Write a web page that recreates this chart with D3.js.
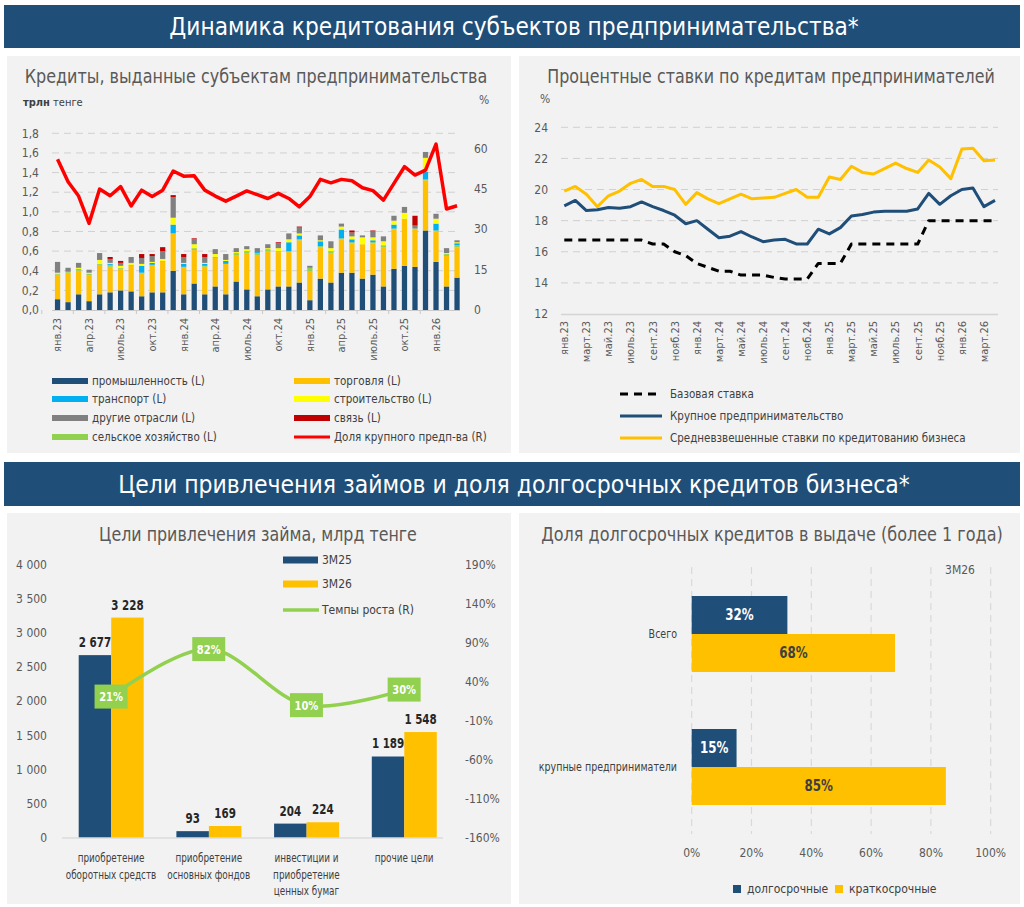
<!DOCTYPE html>
<html><head><meta charset="utf-8">
<script src="https://cdn.jsdelivr.net/npm/d3@7"></script>
<style>
body{margin:0;background:#fff;}
svg{display:block;font-family:"Liberation Sans Narrow","DejaVu Sans Condensed","Roboto Condensed",sans-serif;}
</style></head><body><svg id="c" width="1024" height="907"></svg>
<script>
// ---------------- DATA ----------------
const months1 = ["янв.23","фев.23","март.23","апр.23","май.23","июнь.23","июль.23","авг.23","сент.23","окт.23","нояб.23","дек.23",
"янв.24","фев.24","март.24","апр.24","май.24","июнь.24","июль.24","авг.24","сент.24","окт.24","нояб.24","дек.24",
"янв.25","фев.25","март.25","апр.25","май.25","июнь.25","июль.25","авг.25","сент.25","окт.25","нояб.25","дек.25",
"янв.26","фев.26","март.26"];
const months2 = ["янв.23","фев.23","март.23","апр.23","май.23","июнь.23","июль.23","авг.23","сент.23","окт.23","нояб.23","дек.23",
"янв.24","фев.24","март.24","апр.24","май.24","июнь.24","июль.24","авг.24","сент.24","окт.24","нояб.24","дек.24",
"янв.25","фев.25","март.25","апр.25","май.25","июнь.25","июль.25","авг.25","сент.25","окт.25","нояб.25","дек.25",
"янв.26","фев.26","март.26","апр.26"];

// Chart 1: loans by sector, trillion tenge
const industry     = [0.11,0.08,0.16,0.09,0.16,0.18,0.20,0.19,0.14,0.18,0.18,0.40,0.16,0.27,0.16,0.24,0.16,0.29,0.21,0.14,0.21,0.24,0.24,0.28,0.10,0.32,0.28,0.38,0.38,0.32,0.36,0.24,0.42,0.45,0.44,0.81,0.49,0.24,0.33];
const trade        = [0.25,0.30,0.24,0.26,0.30,0.26,0.22,0.26,0.23,0.27,0.31,0.38,0.27,0.34,0.28,0.29,0.31,0.27,0.37,0.42,0.39,0.35,0.35,0.43,0.29,0.32,0.30,0.34,0.30,0.35,0.32,0.40,0.40,0.47,0.38,0.51,0.31,0.31,0.31];
const agriculture  = [0.01,0.01,0.02,0.02,0.01,0.02,0.01,0.01,0.01,0.01,0.01,0.00,0.01,0.02,0.01,0.01,0.00,0.02,0.02,0.02,0.02,0.01,0.01,0.01,0.04,0.01,0.02,0.01,0.01,0.00,0.01,0.02,0.01,0.01,0.01,0.01,0.01,0.02,0.02];
const transport    = [0.00,0.00,0.00,0.00,0.00,0.01,0.00,0.00,0.07,0.02,0.00,0.09,0.03,0.00,0.02,0.00,0.03,0.00,0.00,0.01,0.00,0.00,0.09,0.04,0.00,0.05,0.00,0.09,0.03,0.00,0.02,0.00,0.04,0.00,0.00,0.08,0.07,0.00,0.02];
const construction = [0.01,0.00,0.01,0.01,0.04,0.01,0.02,0.02,0.02,0.01,0.02,0.07,0.01,0.04,0.01,0.03,0.01,0.01,0.02,0.00,0.01,0.03,0.03,0.02,0.00,0.01,0.03,0.03,0.03,0.07,0.03,0.04,0.04,0.06,0.00,0.14,0.05,0.01,0.01];
const otherSectors = [0.11,0.04,0.05,0.03,0.07,0.04,0.03,0.06,0.06,0.06,0.08,0.21,0.06,0.05,0.06,0.05,0.06,0.04,0.03,0.04,0.04,0.05,0.06,0.06,0.02,0.05,0.07,0.03,0.04,0.02,0.06,0.05,0.05,0.06,0.03,0.06,0.05,0.05,0.02];
const communication= [0.00,0.00,0.00,0.00,0.00,0.02,0.02,0.00,0.04,0.02,0.04,0.02,0.03,0.01,0.03,0.00,0.00,0.00,0.00,0.00,0.00,0.01,0.00,0.01,0.00,0.00,0.00,0.00,0.02,0.00,0.01,0.00,0.00,0.00,0.10,0.00,0.00,0.00,0.00];
const largeShare   = [56.0,47.6,42.3,32.2,44.9,42.4,45.8,38.6,44.5,42.1,44.5,51.6,49.7,49.8,44.5,42.3,40.4,42.3,44.2,42.8,41.4,43.3,41.4,38.3,42.1,48.5,47.2,48.5,48.0,45.4,44.3,40.8,47.0,53.2,50.1,51.9,61.6,37.5,38.7];
const sectorKeys   = ["промышленность (L)","торговля (L)","сельское хозяйство (L)","транспорт (L)","строительство (L)","другие отрасли (L)","связь (L)"];
const sectorSeries = [industry,trade,agriculture,transport,construction,otherSectors,communication];
const sectorColors = ["#1F4E79","#FFC000","#92D050","#00B0F0","#FFFF00","#808080","#C00000"];
const lineLabel1   = "Доля крупного предп-ва (R)";
const ticksL1 = [0,0.2,0.4,0.6,0.8,1.0,1.2,1.4,1.6,1.8];
const ticksR1 = [0,15,30,45,60];

// Chart 2: interest rates, %
const baseRate  = [16.75,16.75,16.75,16.75,16.75,16.75,16.75,16.75,16.5,16.5,16.0,15.75,15.25,15.0,14.75,14.75,14.5,14.5,14.5,14.35,14.25,14.25,14.25,15.25,15.25,15.25,16.5,16.5,16.5,16.5,16.5,16.5,16.5,18,18,18,18,18,18,18];
const largeRate = [18.95,19.3,18.65,18.7,18.85,18.8,18.9,19.2,18.9,18.65,18.35,17.8,18.0,17.45,16.9,17.0,17.3,16.95,16.65,16.75,16.8,16.5,16.5,17.45,17.15,17.55,18.3,18.4,18.55,18.6,18.6,18.6,18.75,19.75,19.05,19.6,20.0,20.1,18.9,19.3];
const avgRate   = [19.9,20.2,19.7,18.9,19.6,19.9,20.4,20.65,20.2,20.2,20.0,19.05,19.8,19.4,19.1,19.4,19.7,19.4,19.45,19.5,19.75,20.0,19.5,19.5,20.8,20.65,21.5,21.1,21.0,21.35,21.7,21.35,21.1,21.9,21.45,20.7,22.6,22.65,21.85,21.9];
const rateNames = ["Базовая ставка","Крупное предпринимательство","Средневзвешенные ставки по кредитованию бизнеса"];
const ticks2 = [12,14,16,18,20,22,24];

// Chart 3: purposes, bn tenge
const purposes = [["приобретение","оборотных средств"],["приобретение","основных фондов"],["инвестиции и","приобретение","ценных бумаг"],["прочие цели"]];
const val3M25 = [2677,93,204,1189];
const val3M26 = [3228,169,224,1548];
const growth  = [21,82,10,30];
const names3  = ["3М25","3М26","Темпы роста (R)"];
const ticksL3 = [0,500,1000,1500,2000,2500,3000,3500,4000];
const ticksR3 = [-160,-110,-60,-10,40,90,140,190];

// Chart 4: share of long-term loans
const groups4 = ["Всего","крупные предприниматели"];
const longShare  = [32,15];
const shortShare = [68,85];
const names4 = ["долгосрочные","краткосрочные"];
const ticks4 = [0,20,40,60,80,100];

// ---------------- DRAW ----------------
const svg = d3.select("#c");
const NAVY="#1F4E79", GOLD="#FFC000", GREEN="#92D050", TXT="#595959", GRID="#D0D0D0";

// horizontal condensing of a text around its anchor point
function condense(sel,k){
  sel.each(function(){
    const t=d3.select(this);
    const x=+t.attr("x")||0, y=+t.attr("y")||0;
    const prev=t.attr("transform")||"";
    if(prev) t.attr("transform",prev+` scale(${k},1)`);
    else t.attr("transform",`translate(${x},${y}) scale(${k},1) translate(${-x},${-y})`);
  });
  return sel;
}
function fitWidth(sel,w){
  const len=sel.node().getComputedTextLength();
  return condense(sel, Math.min(1.15,w/len));
}

// headers & panels
function header(y,h,text,w){
  svg.append("rect").attr("x",4).attr("y",y).attr("width",1016).attr("height",h).attr("fill","#1F4E79");
  const t=svg.append("text").attr("x",514).attr("y",y+h/2).attr("dy","0.36em").attr("text-anchor","middle")
    .attr("fill","#fff").attr("font-size",25).text(text);
  fitWidth(t,w);
}
header(5,43,"Динамика кредитования субъектов предпринимательства*",690);
header(462,44,"Цели привлечения займов и доля долгосрочных кредитов бизнеса*",792);
[[7,56,504,397],[519,56,501,397],[7,513,504,391],[519,513,501,391]].forEach(p=>{
  svg.append("rect").attr("x",p[0]).attr("y",p[1]).attr("width",p[2]).attr("height",p[3]).attr("fill","#F2F2F2");
});
function title(cx,y,text,w){
  const t=svg.append("text").attr("x",cx).attr("y",y).attr("dy","0.36em").attr("text-anchor","middle").attr("fill",TXT)
    .attr("font-size",20).text(text);
  fitWidth(t,w);
}
title(256,76,"Кредиты, выданные субъектам предпринимательства",463);
title(771,76,"Процентные ставки по кредитам предпринимателей",448);
title(258,534,"Цели привлечения займа, млрд тенге",318);
title(772,534,"Доля долгосрочных кредитов в выдаче (более 1 года)",462);

// ---------- Chart 1 ----------
{
  const g = svg.append("g");
  const x = d3.scaleBand().domain(months1).range([52.3,462.3]).paddingInner(0.5).paddingOuter(0.25);
  const yL = d3.scaleLinear().domain([0,1.8]).range([310,133.3]);
  const yR = d3.scaleLinear().domain([0,65.6]).range([310,133.3]);
  g.append("text").attr("x",23).attr("y",106).attr("font-size",11).attr("fill","#404040")
    .html('<tspan font-weight="bold">трлн</tspan> тенге');
  g.append("text").attr("x",479).attr("y",104).attr("font-size",12).attr("fill",TXT).text("%");
  ticksL1.forEach(t=>{
    if(t>0) g.append("line").attr("x1",52).attr("x2",460).attr("y1",yL(t)).attr("y2",yL(t))
      .attr("stroke",GRID).attr("stroke-dasharray","7,5");
    g.append("text").attr("x",39).attr("y",yL(t)).attr("dy","0.35em").attr("text-anchor","end")
      .attr("font-size",12).attr("fill",TXT).text(d3.format(".1f")(t).replace(".",","));
  });
  ticksR1.forEach(t=>{
    g.append("text").attr("x",474).attr("y",yR(t)).attr("dy","0.35em").attr("font-size",12).attr("fill",TXT).text(t);
  });
  const rows = months1.map((m,i)=>{const r={m}; sectorKeys.forEach((k,j)=>r[k]=sectorSeries[j][i]); return r;});
  const stacked = d3.stack().keys(sectorKeys)(rows);
  stacked.forEach((s,j)=>{
    g.append("g").selectAll("rect").data(s).join("rect")
      .attr("x",d=>x(d.data.m)).attr("width",x.bandwidth())
      .attr("y",d=>yL(d[1])).attr("height",d=>Math.max(0,yL(d[0])-yL(d[1]))).attr("fill",sectorColors[j]);
  });
  g.append("line").attr("x1",52).attr("x2",460).attr("y1",310.5).attr("y2",310.5).attr("stroke","#C8C8C8");
  const step = x.step();
  months1.forEach((m,i)=>{
    if(i%3===0){
      const cx = x(m)+x.bandwidth()/2;
      g.append("line").attr("x1",cx-step*1.5).attr("x2",cx-step*1.5).attr("y1",310).attr("y2",314).attr("stroke","#C8C8C8");
      g.append("text").attr("transform",`translate(${cx},318) rotate(-90)`).attr("text-anchor","end").attr("dy","0.35em")
        .attr("font-size",11).attr("fill",TXT).text(m);
    }
  });
  const line = d3.line().x((d,i)=>x(months1[i])+x.bandwidth()/2).y(d=>yR(d));
  g.append("path").datum(largeShare).attr("d",line).attr("fill","none").attr("stroke","#FF0000")
    .attr("stroke-width",3.5).attr("stroke-linejoin","round");
  // legend
  const legend = [[0,52,381],[3,52,399],[5,52,418],[2,52,437],[1,294,381],[4,294,399],[6,294,418]];
  legend.forEach(([j,lx,ly])=>{
    g.append("rect").attr("x",lx).attr("y",ly-3).attr("width",36).attr("height",6).attr("fill",sectorColors[j]);
    g.append("text").attr("x",lx+40).attr("y",ly).attr("dy","0.35em").attr("font-size",11.5).attr("fill","#404040").text(sectorKeys[j]);
  });
  g.append("line").attr("x1",294).attr("x2",330).attr("y1",437).attr("y2",437).attr("stroke","#FF0000").attr("stroke-width",3);
  g.append("text").attr("x",334).attr("y",437).attr("dy","0.35em").attr("font-size",11.5).attr("fill","#404040").text(lineLabel1);
}

// ---------- Chart 2 ----------
{
  const g = svg.append("g");
  const x = d3.scalePoint().domain(months2).range([564.3,995]);
  const y = d3.scaleLinear().domain([12,24]).range([314,127.3]);
  g.append("text").attr("x",540).attr("y",103).attr("font-size",12).attr("fill",TXT).text("%");
  ticks2.forEach(t=>{
    if(t>12) g.append("line").attr("x1",561).attr("x2",998).attr("y1",y(t)).attr("y2",y(t))
      .attr("stroke",GRID).attr("stroke-dasharray","7,5");
    g.append("text").attr("x",548).attr("y",y(t)).attr("dy","0.35em").attr("text-anchor","end")
      .attr("font-size",12).attr("fill",TXT).text(t);
  });
  g.append("line").attr("x1",561).attr("x2",998).attr("y1",314.5).attr("y2",314.5).attr("stroke","#D4D4D4").attr("stroke-width",1.5);
  months2.forEach((m,i)=>{
    if(i%2===0) g.append("text").attr("transform",`translate(${x(m)},321) rotate(-90)`).attr("text-anchor","end").attr("dy","0.35em")
      .attr("font-size",11).attr("fill",TXT).text(m);
  });
  const line = d3.line().x((d,i)=>x(months2[i])).y(d=>y(d));
  const specs = [[avgRate,GOLD,null],[largeRate,NAVY,null],[baseRate,"#000","8,6"]];
  specs.forEach(([arr,c,dash])=>{
    const p = g.append("path").datum(arr).attr("d",line).attr("fill","none").attr("stroke",c).attr("stroke-width",3).attr("stroke-linejoin","round");
    if(dash) p.attr("stroke-dasharray",dash);
  });
  const leg = [["#000","8,6",394],[NAVY,null,416],[GOLD,null,438]];
  leg.forEach(([c,dash,ly],k)=>{
    const l = g.append("line").attr("x1",620).attr("x2",662).attr("y1",ly).attr("y2",ly).attr("stroke",c).attr("stroke-width",3);
    if(dash) l.attr("stroke-dasharray",dash);
    g.append("text").attr("x",670).attr("y",ly).attr("dy","0.35em").attr("font-size",11.5).attr("fill","#404040").text(rateNames[k]);
  });
}

// ---------- Chart 3 ----------
{
  const g = svg.append("g");
  const x = d3.scaleBand().domain(d3.range(purposes.length)).range([62.2,453]).paddingInner(0).paddingOuter(0);
  const sub = d3.scaleBand().domain([0,1]).range([16.5,81.5]);
  const yL = d3.scaleLinear().domain([0,4000]).range([837.5,565]);
  const yR = d3.scaleLinear().domain([-160,190]).range([837.5,565]);
  const fmt = v=>d3.format(",")(v).replace(/,/g," ");
  ticksL3.forEach(t=>g.append("text").attr("x",47).attr("y",yL(t)).attr("dy","0.35em").attr("text-anchor","end")
    .attr("font-size",12).attr("fill",TXT).text(fmt(t)));
  ticksR3.forEach(t=>g.append("text").attr("x",465).attr("y",yR(t)).attr("dy","0.35em")
    .attr("font-size",12).attr("fill",TXT).text(t+"%"));
  [val3M25,val3M26].forEach((arr,s)=>{
    arr.forEach((v,i)=>{
      const bx = x(i)+sub(s);
      g.append("rect").attr("x",bx).attr("width",sub.bandwidth()).attr("y",yL(v)).attr("height",yL(0)-yL(v)).attr("fill",s?GOLD:NAVY);
      const t = g.append("text").attr("x",bx+sub.bandwidth()/2).attr("y",yL(v)-8).attr("text-anchor","middle")
        .attr("font-size",14).attr("font-weight","bold").attr("fill","#262626").text(fmt(v));
      condense(t,0.82);
    });
  });
  g.append("line").attr("x1",62).attr("x2",443).attr("y1",838).attr("y2",838).attr("stroke","#D0D0D0");
  purposes.forEach((lines,i)=>{
    lines.forEach((ln,k)=>{
      const t = g.append("text").attr("text-anchor","middle").attr("font-size",12).attr("fill","#404040")
        .attr("x",x(i)+x.bandwidth()/2).attr("y",858+k*16.5).attr("dy","0.35em").text(ln);
      condense(t,0.82);
    });
  });
  const line = d3.line().x((d,i)=>x(i)+x.bandwidth()/2).y(d=>yR(d)).curve(d3.curveCatmullRom.alpha(0.5));
  g.append("path").datum(growth).attr("d",line).attr("fill","none").attr("stroke",GREEN).attr("stroke-width",3.5);
  growth.forEach((v,i)=>{
    const cx = x(i)+x.bandwidth()/2, cy = yR(v);
    g.append("rect").attr("x",cx-16.5).attr("y",cy-12).attr("width",33).attr("height",24).attr("fill",GREEN);
    const t = g.append("text").attr("x",cx).attr("y",cy).attr("dy","0.36em").attr("text-anchor","middle").attr("font-size",13)
      .attr("font-weight","bold").attr("fill","#fff").text(v+"%");
    condense(t,0.85);
  });
  // legend
  [[NAVY,560],[GOLD,584]].forEach(([c,ly],k)=>{
    g.append("rect").attr("x",283).attr("y",ly-3.5).attr("width",35).attr("height",7).attr("fill",c);
    g.append("text").attr("x",322).attr("y",ly).attr("dy","0.35em").attr("font-size",12).attr("fill","#404040").text(names3[k]);
  });
  g.append("line").attr("x1",283).attr("x2",319).attr("y1",610).attr("y2",610).attr("stroke",GREEN).attr("stroke-width",3.5);
  g.append("text").attr("x",322).attr("y",610).attr("dy","0.35em").attr("font-size",12).attr("fill","#404040").text(names3[2]);
}

// ---------- Chart 4 ----------
{
  const g = svg.append("g");
  const x = d3.scaleLinear().domain([0,100]).range([691.7,990.7]);
  const y = d3.scaleBand().domain(groups4).range([567.5,833.5]).paddingInner(0.4286).paddingOuter(0.2143);
  const sub = d3.scaleBand().domain([0,1]).range([0,y.bandwidth()]);
  ticks4.forEach(t=>{
    g.append("line").attr("x1",x(t)).attr("x2",x(t)).attr("y1",567).attr("y2",834)
      .attr("stroke","#D9D9D9").attr("stroke-width",1.2).attr("stroke-dasharray","7,5");
    g.append("text").attr("x",x(t)).attr("y",853).attr("dy","0.35em").attr("text-anchor","middle")
      .attr("font-size",12).attr("fill",TXT).text(t+"%");
  });
  g.append("text").attr("x",960).attr("y",570).attr("dy","0.35em").attr("text-anchor","middle").attr("font-size",12).attr("fill",TXT).text("3М26");
  [longShare,shortShare].forEach((arr,s)=>{
    arr.forEach((v,i)=>{
      const by = y(groups4[i])+sub(s);
      g.append("rect").attr("x",x(0)).attr("y",by).attr("width",x(v)-x(0)).attr("height",sub.bandwidth()).attr("fill",s?GOLD:NAVY);
      const t = g.append("text").attr("x",(x(0)+x(v))/2).attr("y",by+sub.bandwidth()/2).attr("dy","0.36em").attr("text-anchor","middle")
        .attr("font-size",15).attr("font-weight","bold").attr("fill",s?"#3F3F3F":"#fff").text(v+"%");
      condense(t,0.88);
    });
  });
  groups4.forEach(gname=>{
    const t = g.append("text").attr("x",677).attr("y",y(gname)+y.bandwidth()/2).attr("dy","0.35em").attr("text-anchor","end")
      .attr("font-size",12).attr("fill","#404040").text(gname);
    condense(t,0.88);
  });
  [[NAVY,733],[GOLD,835]].forEach(([c,lx],k)=>{
    g.append("rect").attr("x",lx).attr("y",885).attr("width",8).attr("height",8).attr("fill",c);
    g.append("text").attr("x",lx+14).attr("y",889).attr("dy","0.35em").attr("font-size",12).attr("fill","#404040").text(names4[k]);
  });
}
</script></body></html>
